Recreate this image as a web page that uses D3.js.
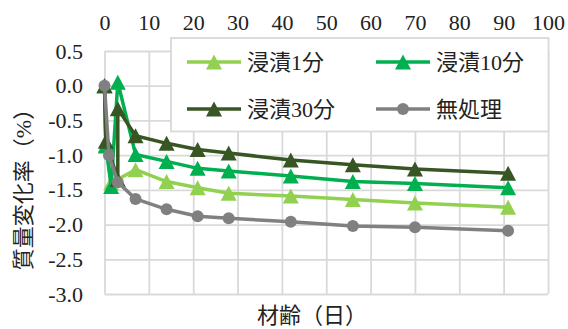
<!DOCTYPE html>
<html>
<head>
<meta charset="utf-8">
<script src="https://cdn.jsdelivr.net/npm/d3@7"></script>
<style>
  html, body { margin: 0; padding: 0; background: #fff; }
  svg { display: block; }
  text { font-family: "Liberation Serif", "Noto Sans CJK JP", serif; fill: #222; }
</style>
</head>
<body>
<svg id="chart" width="568" height="329"></svg>
<script>
// Mass change rate (%) against age in days
const xTicks = [0, 10, 20, 30, 40, 50, 60, 70, 80, 90, 100];
const yTicks = [0.5, 0.0, -0.5, -1.0, -1.5, -2.0, -2.5, -3.0];

const seriesNames = ["浸漬1分", "浸漬10分", "浸漬30分", "無処理"];
const seriesColors = ["#92d050", "#00b050", "#375623", "#808080"];
const seriesMarkers = ["triangle", "triangle", "triangle", "circle"];

const days1 = [0, 0.3, 1.5, 7, 14, 21, 28, 42, 56, 70, 91];
const dip1 = [0, -0.85, -1.40, -1.21, -1.38, -1.47, -1.55, -1.59, -1.64, -1.69, -1.75];

const days10 = [0, 0.3, 1.5, 3, 7, 14, 21, 28, 42, 56, 70, 91];
const dip10 = [0, -0.87, -1.45, 0.05, -0.99, -1.09, -1.19, -1.23, -1.30, -1.38, -1.41, -1.47];

const days30 = [0, 0.3, 3, 3, 7, 14, 21, 28, 42, 56, 70, 91];
const dip30 = [0, -0.80, -1.35, -0.33, -0.72, -0.83, -0.92, -0.97, -1.07, -1.14, -1.20, -1.26];

const daysCtl = [0, 1, 3, 7, 14, 21, 28, 42, 56, 70, 91];
const ctl = [0, -1.00, -1.39, -1.63, -1.78, -1.88, -1.91, -1.96, -2.02, -2.04, -2.09];

const seriesX = [days1, days10, days30, daysCtl];
const seriesY = [dip1, dip10, dip30, ctl];

const svg = d3.select("#chart");
const plotL = 104.5, plotR = 548, plotT = 51, plotB = 294;
const x = d3.scaleLinear().domain([0, 100]).range([plotL, plotR]);
const y = d3.scaleLinear().domain([-3, 0.5]).range([plotB, plotT]);
const fontSize = 22;
const gridColor = "#d9d9d9";

// gridlines + top axis labels
const xAxis = d3.axisTop(x).tickValues(xTicks).tickFormat(d3.format("d"))
  .tickSize(-(plotB - plotT)).tickPadding(21);
const gx = svg.append("g").attr("transform", `translate(0,${plotT})`).call(xAxis);
gx.select(".domain").remove();
gx.selectAll(".tick line").attr("stroke", gridColor).attr("stroke-width", 1.8);
gx.selectAll(".tick text").attr("font-size", fontSize).attr("fill", "#222")
  .style("font-family", "'Liberation Serif', serif");

const yAxis = d3.axisLeft(y).tickValues(yTicks).tickFormat(d => d3.format(".1f")(d).replace("−", "-"))
  .tickSize(-(plotR - plotL)).tickPadding(21.5);
const gy = svg.append("g").attr("transform", `translate(${plotL},0)`).call(yAxis);
gy.select(".domain").remove();
gy.selectAll(".tick line").attr("stroke", gridColor).attr("stroke-width", 1.8);
gy.selectAll(".tick text").attr("font-size", fontSize).attr("fill", "#222")
  .style("font-family", "'Liberation Serif', serif");

// marker shapes
function triPath(cx, cy) {
  const w = 8, h = 7.5;
  return `M${cx},${cy - h}L${cx + w},${cy + h}L${cx - w},${cy + h}Z`;
}
function drawMarker(g, kind, cx, cy, color) {
  if (kind === "triangle") {
    g.append("path").attr("d", triPath(cx, cy)).attr("fill", color);
  } else {
    g.append("circle").attr("cx", cx).attr("cy", cy).attr("r", 6).attr("fill", color);
  }
}

// series lines and markers
const line = d3.line().x(d => x(d[0])).y(d => y(d[1]));
seriesNames.forEach((name, i) => {
  const pts = seriesX[i].map((d, j) => [d, seriesY[i][j]]);
  const g = svg.append("g");
  g.append("path").datum(pts).attr("d", line)
    .attr("fill", "none").attr("stroke", seriesColors[i])
    .attr("stroke-width", 3.5).attr("stroke-linejoin", "round");
  pts.forEach(p => drawMarker(g, seriesMarkers[i], x(p[0]), y(p[1]), seriesColors[i]));
});

// legend
const lg = svg.append("g");
lg.append("rect").attr("x", 171).attr("y", 38).attr("width", 377.5).attr("height", 93.5)
  .attr("fill", "#fff").attr("stroke", gridColor).attr("stroke-width", 1.8);
const legendPos = [[187, 62], [376, 62], [187, 109], [376, 109]];
seriesNames.forEach((name, i) => {
  const [lx, ly] = legendPos[i];
  lg.append("line").attr("x1", lx).attr("x2", lx + 54).attr("y1", ly).attr("y2", ly)
    .attr("stroke", seriesColors[i]).attr("stroke-width", 3.5);
  drawMarker(lg, seriesMarkers[i], lx + 27, ly, seriesColors[i]);
  lg.append("text").attr("x", lx + 60).attr("y", ly).attr("dy", "0.36em")
    .attr("font-size", fontSize).text(name);
});

// axis titles
svg.append("text").attr("x", 312).attr("y", 323).attr("text-anchor", "middle")
  .attr("font-size", fontSize).text("材齢（日）");
svg.append("text").attr("transform", "translate(31,184) rotate(-90)")
  .attr("text-anchor", "middle").attr("font-size", fontSize).text("質量変化率（%）");
</script>
</body>
</html>
